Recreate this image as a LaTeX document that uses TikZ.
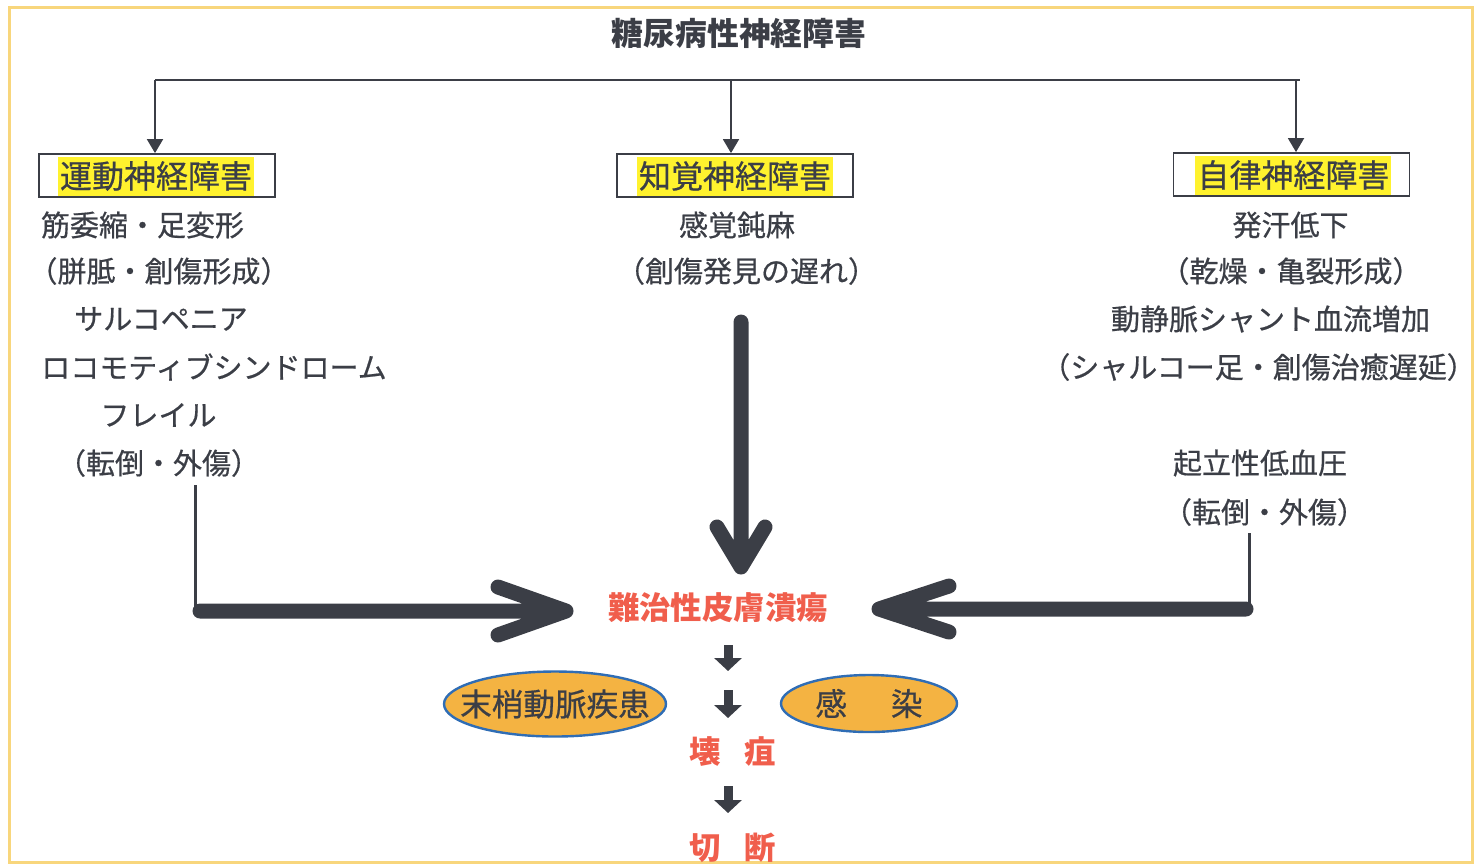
\documentclass[tikz,border=0pt]{standalone}
\usepackage{fontspec}
\setmainfont{Noto Sans CJK JP}
\newfontface\medf{Noto Sans CJK JP}[FakeBold=0.6]
\usetikzlibrary{arrows.meta,shapes.geometric}
\definecolor{ink}{HTML}{3B3E46}
\definecolor{redc}{HTML}{F05E4C}
\definecolor{hly}{HTML}{FFF22E}
\definecolor{ovalf}{HTML}{F4B342}
\definecolor{ovalb}{HTML}{2F6DB5}
\definecolor{framec}{HTML}{F8D67C}
\begin{document}
\begin{tikzpicture}[x=0.5pt,y=-0.5pt,
  txt/.style={text=ink, inner sep=0pt, font=\medf\fontsize{14.5pt}{16pt}\selectfont},
  ttl/.style={text=ink, inner sep=0pt, font=\bfseries\fontsize{15.9pt}{17pt}\selectfont},
  catbox/.style={draw=ink, line width=0.9pt, minimum width=118pt, minimum height=21.5pt, inner sep=0pt},
  hl/.style={fill=hly, text=ink, inner xsep=1pt, inner ysep=0pt, minimum height=19.5pt, font=\medf\fontsize{16pt}{18pt}\selectfont},
  redt/.style={text=redc, inner sep=0pt, font=\bfseries\fontsize{15.7pt}{17pt}\selectfont},
  oval/.style={ellipse, draw=ovalb, line width=1.2pt, fill=ovalf, inner sep=0pt, text=ink, font=\medf\fontsize{15.8pt}{17pt}\selectfont},
  thinl/.style={draw=ink, line width=1.5pt},
  topl/.style={draw=ink, line width=1pt},
  tri/.style={draw=ink, line width=0.9pt, -{Triangle[length=7pt,width=8pt]}},
  big/.style={draw=ink, line width=7.5pt, line cap=round, line join=round},
  blk/.style={draw=ink, line width=4.5pt, -{Triangle[length=6.5pt,width=13.5pt]}}
]
\useasboundingbox (0,0) rectangle (1481,864);
\draw[framec, line width=1.5pt] (9,7) rectangle (1472,862);

% title and top distribution
\node[ttl] (title) at (739,33) {糖尿病性神経障害};
\coordinate (hl1) at (155,80);
\coordinate (hl2) at (731,80);
\coordinate (hl3) at (1296,80);
\coordinate (hlend) at (1300,80);
\draw[topl] (hl1) -- (hlend);

% category boxes
\node[catbox] (motor) at (157,175.5) {};
\node[hl] (motorl) at (156,176) {運動神経障害};
\node[catbox] (sense) at (735,175.5) {};
\node[hl] (sensel) at (735,176) {知覚神経障害};
\node[catbox] (auto) at (1291.5,174.5) {};
\node[hl, anchor=west] (autol) at (1195,175) {自律神経障害\hspace{11pt}};

\draw[tri] (hl1) -- (hl1 |- motor.north);
\draw[tri] (hl2) -- (hl2 |- sense.north);
\draw[tri] (hl3) -- (hl3 |- auto.north);

% left column
\node[txt] (m1) at (142.5,225) {筋委縮・足変形};
\node[txt] (m2) at (159,271) {（胼胝・創傷形成）};
\node[txt] (m3) at (161,319) {サルコペニア};
\node[txt] (m4) at (214,367) {ロコモティブシンドローム};
\node[txt] (m5) at (158.5,415) {フレイル};
\node[txt] (m6) at (158.5,463) {（転倒・外傷）};

% middle column
\node[txt] (s1) at (737,225) {感覚鈍麻};
\node[txt] (s2) at (746.5,271) {（創傷発見の遅れ）};

% right column
\node[txt] (a1) at (1290.5,225) {発汗低下};
\node[txt] (a2) at (1291,271) {（乾燥・亀裂形成）};
\node[txt] (a3) at (1270.5,319) {動静脈シャント血流増加};
\node[txt] (a4) at (1258.5,367) {（シャルコー足・創傷治癒遅延）};
\node[txt] (a5) at (1260,463) {起立性低血圧};
\node[txt] (a6) at (1264.5,512) {（転倒・外傷）};

% outcome chain
\node[redt] (ulcer) at (718,608) {難治性皮膚潰瘍};
\node[oval, minimum width=111pt, minimum height=32.5pt] (pad) at (555,704) {\makebox[0pt]{末梢動脈疾患}};
\node[oval, minimum width=88pt, minimum height=28.5pt] (inf) at (869,703.5) {\makebox[0pt]{感\hspace{22pt}染}};
\node[redt] (gang) at (732.5,752) {壊\hspace{12pt}疽};
\node[redt] (amp) at (732.5,848) {切\hspace{12pt}断};

\coordinate (b1s) at (728,645); \coordinate (b1e) at (728,671);
\coordinate (b2s) at (728,690); \coordinate (b2e) at (728,718);
\coordinate (b3s) at (728,786); \coordinate (b3e) at (728,813);
\draw[blk] (b1s) -- (b1e);
\draw[blk] (b2s) -- (b2e);
\draw[blk] (b3s) -- (b3e);

% big arrows
\coordinate (ms) at (741,322);
\coordinate (mt) at (741,567);
\draw[big] (ms) -- (mt) ++(-24,-40) -- (mt) -- ++(24,-40);

\coordinate (lv) at (195,485);
\coordinate (lc) at (195,612);
\coordinate (lh) at (200,611);
\coordinate (lt) at (566,611);
\draw[thinl] (lv) -- (lc);
\draw[big] (lh) -- (lt) ++(-68,-24) -- (lt) -- ++(-68,24);

\coordinate (rv) at (1249,533);
\coordinate (rc) at (1249,609);
\coordinate (rh) at (1246,609);
\coordinate (rt) at (879,609);
\draw[thinl] (rv) -- (rc);
\draw[big] (rh) -- (rt) ++(70,-23) -- (rt) -- ++(70,23);
\end{tikzpicture}
\end{document}
